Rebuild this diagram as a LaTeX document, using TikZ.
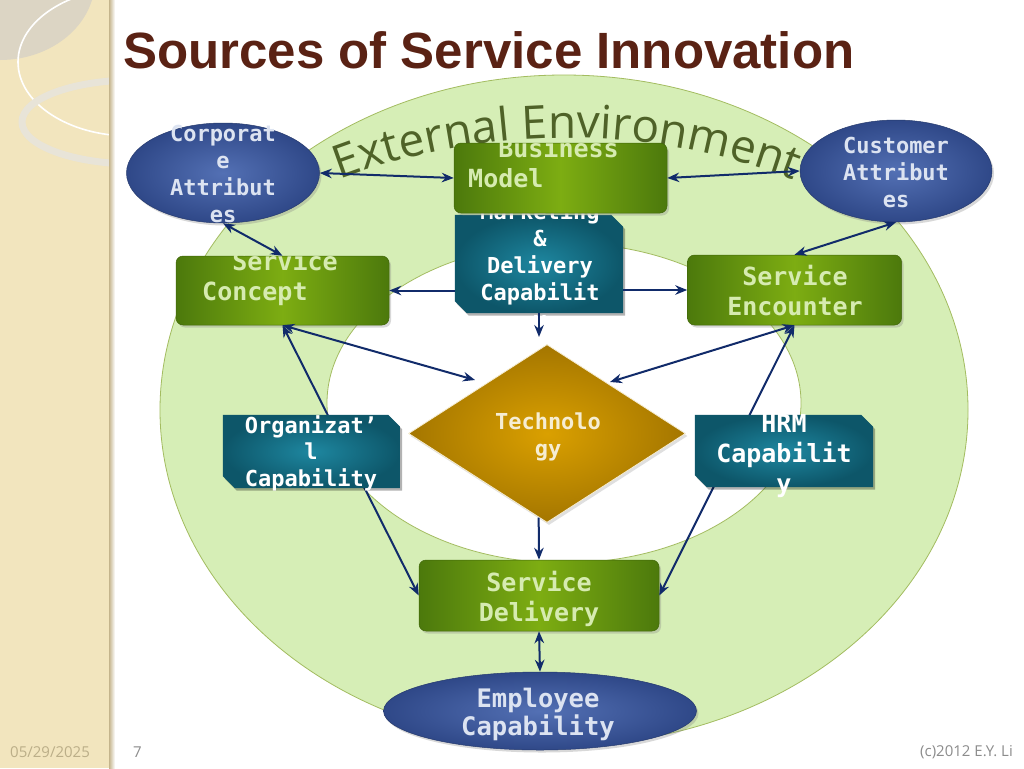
\documentclass[tikz,border=0pt]{standalone}
\usepackage{fontspec}
\newfontfamily\titlefont{Liberation Sans}
\newfontfamily\boxfont{DejaVu Sans Mono}
\newfontfamily\envfont{Open Sans}
\usetikzlibrary{shapes.geometric,arrows.meta,shadows,decorations.text,calc}

\definecolor{stripbg}{HTML}{F2E5BE}
\definecolor{stripedge}{HTML}{C4B48C}
\definecolor{ringgrey}{HTML}{DCD5C4}
\definecolor{ringlight}{HTML}{E8E4D8}
\definecolor{titlebrown}{HTML}{5A2214}
\definecolor{envfill}{HTML}{D6EEB6}
\definecolor{envline}{HTML}{A3BC60}
\definecolor{envtext}{HTML}{4F6228}
\definecolor{greenlight}{HTML}{7DAD12}
\definecolor{greendark}{HTML}{4C790C}
\definecolor{greentext}{HTML}{D6EBB0}
\definecolor{bluelight}{HTML}{5370B4}
\definecolor{bluedark}{HTML}{2F4888}
\definecolor{bluetext}{HTML}{DCE3F1}
\definecolor{teallight}{HTML}{1E87A0}
\definecolor{tealdark}{HTML}{0D5669}
\definecolor{goldlight}{HTML}{DAA000}
\definecolor{golddark}{HTML}{A47600}
\definecolor{goldtext}{HTML}{F6EDD2}
\definecolor{linknavy}{HTML}{112B6A}
\definecolor{footgrey}{HTML}{8C8C8C}
\definecolor{footbeige}{HTML}{BBAE88}

% teal box with two snipped corners, drawn round an empty slot node
\newcommand\snipbox[1]{%
  \fill[black, opacity=0.3, transform canvas={xshift=2pt, yshift=-2.5pt}]
    (#1.north west) -- ($(#1.north east)+(-12,0)$) -- ($(#1.north east)+(0,12)$)
    -- (#1.south east) -- ($(#1.south west)+(12,0)$) -- ($(#1.south west)+(0,-12)$) -- cycle;
  \shade[inner color=teallight, outer color=tealdark]
    (#1.north west) -- ($(#1.north east)+(-12,0)$) -- ($(#1.north east)+(0,12)$)
    -- (#1.south east) -- ($(#1.south west)+(12,0)$) -- ($(#1.south west)+(0,-12)$) -- cycle;
}

\begin{document}
\begin{tikzpicture}[
  x=1pt, y=-1pt,
  line join=round,
  greenbox/.style={rectangle, rounded corners=7pt, inner sep=0pt,
    left color=greendark, right color=greendark, middle color=greenlight,
    draw=greendark!85!black, line width=0.5pt,
    drop shadow={opacity=0.3, shadow xshift=2pt, shadow yshift=-2.5pt}},
  bubble/.style={ellipse, inner sep=0pt, inner color=bluelight, outer color=bluedark,
    draw=bluedark!80!black, line width=0.5pt,
    drop shadow={opacity=0.3, shadow xshift=2pt, shadow yshift=-2.5pt}},
  slot/.style={rectangle, inner sep=0pt},
  gem/.style={diamond, inner sep=0pt, inner color=goldlight, outer color=golddark,
    draw=goldtext, line width=0.8pt,
    drop shadow={opacity=0.25, shadow xshift=2pt, shadow yshift=-2.5pt}},
  monotxt/.style={inner sep=0pt, align=center, font=\boxfont\bfseries\fontsize{22}{27}\selectfont},
  widetxt/.style={inner sep=0pt, align=center, font=\boxfont\bfseries\fontsize{25}{30}\selectfont},
  foottxt/.style={inner sep=0pt, font=\envfont\fontsize{15}{15}\selectfont},
  arrowline/.style={draw=linknavy, line width=2pt, >={Stealth[length=12pt,width=9.5pt]}}
]
  \useasboundingbox (0,0) rectangle (1024,768);
  \fill[white] (0,0) rectangle (1024,768);

  % Left beige strip with its rings.
  \fill[stripbg] (0,0) rectangle (110,768);
  \begin{scope}
    \clip (0,0) rectangle (110,768);
    \fill[ringgrey] (0,-20) ellipse[x radius=95, y radius=80];
    \draw[white, line width=1.6pt] (130,62) ellipse[x radius=112, y radius=74];
    \draw[ringlight, line width=7pt] (135,122) ellipse[x radius=113, y radius=42];
  \end{scope}
  \shade[left color=stripedge, right color=white] (109,0) rectangle (115,768);

  \node[anchor=base west, inner sep=0pt, text=titlebrown,
    font=\titlefont\bfseries\fontsize{51}{51}\selectfont] (title) at (123,68)
    {Sources of Service Innovation};

  % Environment rings.
  \draw[envline, fill=envfill, line width=0.8pt] (564,410) ellipse[x radius=404, y radius=335];
  \draw[envline, fill=white, line width=0.8pt] (564,403) ellipse[x radius=237, y radius=160];
  \path[decorate, decoration={text along path, text align=center,
    text={|\envfont\fontsize{46}{46}\selectfont\color{envtext}|External Environment}}]
    (266.5,212.9) arc[start angle=-118, end angle=-62, radius=640];

  % Outer attributes.
  \node[bubble, minimum width=193pt, minimum height=100pt] (corp) at (223,173) {};
  \node[monotxt, text=bluetext] (corp-txt) at (223,173.5) {Corporat\\e\\Attribut\\es};
  \node[bubble, minimum width=192pt, minimum height=102pt] (cust) at (896,171) {};
  \node[monotxt, text=bluetext] (cust-txt) at (896,172) {Customer\\Attribut\\es};

  % Marketing box sits under the business model box.
  \node[slot, minimum width=168pt, minimum height=98pt] (mkt) at (539,264) {};
  \snipbox{mkt}
  \node[monotxt, text=white] (mkt-txt) at (540,267) {Marketing\\\&\\Delivery\\Capabilit\\y};
  \node[greenbox, minimum width=213pt, minimum height=70pt] (bm) at (560.5,178) {};
  \begin{scope}
    \clip ($(bm.north)+(-120,0)$) rectangle ($(bm.south)+(120,60)$);
    \node[widetxt, align=left, anchor=west, text=greentext] (bm-txt) at (468,163)
      {\hphantom{Bu}Business\\Model};
  \end{scope}

  \node[greenbox, minimum width=213pt, minimum height=69pt] (sc) at (282.5,290.5) {};
  \begin{scope}
    \clip ($(sc.north)+(-120,0)$) rectangle ($(sc.south)+(120,60)$);
    \node[widetxt, align=left, anchor=west, text=greentext] (sc-txt) at (202,278)
      {\hphantom{Se}Service\\Concept};
  \end{scope}
  \node[greenbox, minimum width=214pt, minimum height=70pt] (se) at (794.5,290) {};
  \node[widetxt, text=greentext] (se-txt) at (795,290.5) {Service\\Encounter};

  \node[gem, minimum width=277pt, minimum height=178pt] (tech) at (547,433.5) {};
  \node[monotxt, text=goldtext] (tech-txt) at (548,437) {Technolo\\gy};

  \node[greenbox, minimum width=240pt, minimum height=71pt] (sd) at (539,595.5) {};
  \node[widetxt, text=greentext] (sd-txt) at (539,598.5) {Service\\Delivery};
  \node[bubble, minimum width=313pt, minimum height=78pt] (emp) at (540,711) {};
  \node[widetxt, text=bluetext, font=\boxfont\bfseries\fontsize{25.5}{28}\selectfont]
    (emp-txt) at (538,714) {Employee\\Capability};

  % Arrow ends near the diamond.
  \coordinate (tech-top) at (539,337);
  \coordinate (tech-nw) at (475,380);
  \coordinate (tech-ne) at (610,382);

  % Connectors.
  \draw[arrowline, <->] (corp.east) -- (bm.west);
  \draw[arrowline, <->] (bm.east) -- (cust.west);
  \draw[arrowline, <->] (corp.south) -- (sc.north);
  \draw[arrowline, <->] (cust.south) -- (se.north);
  \draw[arrowline, ->] (mkt.west |- sc.east) -- (sc.east);
  \draw[arrowline, ->] (mkt.east |- se.west) -- (se.west);
  \draw[arrowline, ->] (mkt.south) -- (tech-top);
  \draw[arrowline, <->] (sc.south) -- (tech-nw);
  \draw[arrowline, <->] (se.south) -- (tech-ne);
  \draw[arrowline, <->] (sc.south) -- (sd.west);
  \draw[arrowline, <->] (se.south) -- (sd.east);
  \draw[arrowline, ->] ($(tech.south)!0.06!(tech.west)$) -- (sd.north);
  \draw[arrowline, <->] (sd.south) -- (emp.north);

  % Capability boxes lie over the long connectors.
  \node[slot, minimum width=177pt, minimum height=73pt] (org) at (311.5,451.5) {};
  \snipbox{org}
  \node[monotxt, text=white, font=\boxfont\bfseries\fontsize{22}{26.5}\selectfont]
    (org-txt) at (311,453) {Organizat’\\l\\Capability};
  \node[slot, minimum width=178pt, minimum height=72pt] (hrm) at (784,451) {};
  \snipbox{hrm}
  \begin{scope}
    \clip ($(hrm.north)+(-120,0)$) rectangle ($(hrm.south)+(120,60)$);
    \node[widetxt, text=white] (hrm-txt) at (784,456) {HRM\\Capabilit\\y};
  \end{scope}

  % Footer.
  \node[foottxt, anchor=base west, text=footbeige] (date) at (10,757) {05/29/2025};
  \node[foottxt, anchor=base west, text=footgrey] (page) at (133,757) {7};
  \node[foottxt, anchor=base east, text=footgrey] (credit) at (1013,756) {(c)2012 E.Y. Li};
\end{tikzpicture}
\end{document}
